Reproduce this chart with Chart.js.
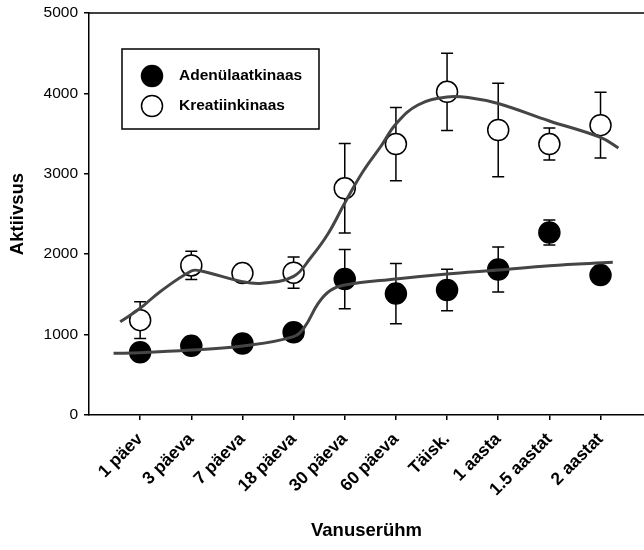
<!DOCTYPE html>
<html>
<head>
<meta charset="utf-8">
<script src="https://cdn.jsdelivr.net/npm/chart.js"></script>
<style>
  html, body { margin: 0; padding: 0; background: #fff; }
  #wrap { width: 644px; height: 550px; position: relative; }
</style>
</head>
<body>
<div id="wrap"><canvas id="chart"></canvas></div>
<script>
// categories (age groups)
const categories = ['1 päev', '3 päeva', '7 päeva', '18 päeva', '30 päeva', '60 päeva', 'Täisk.', '1 aasta', '1.5 aastat', '2 aastat'];

// Adenülaatkinaas (filled markers)
const adkValues = [780, 860, 890, 1030, 1690, 1510, 1555, 1810, 2270, 1740];
const adkErrors = [40, 40, 40, 40, 370, 375, 258, 280, 155, 40];

// Kreatiinkinaas (open markers)
const ckValues = [1180, 1860, 1765, 1770, 2820, 3370, 4020, 3545, 3370, 3605];
const ckErrors = [228, 176, 60, 195, 556, 456, 480, 581, 199, 410];

// fitted curves
const ckFitX = [-0.39, 0, 0.39, 1, 1.17, 2, 2.38, 3, 3.33, 3.67, 4, 4.35, 4.71, 5, 5.43, 6, 6.47, 7, 8, 9, 9.35];
const ckFitY = [1160, 1327, 1534, 1791, 1795, 1658, 1638, 1725, 1953, 2251, 2637, 3022, 3346, 3619, 3856, 3955, 3943, 3874, 3657, 3452, 3321];
const adkFitX = [-0.52, 0, 1, 2, 3, 3.22, 3.48, 3.71, 4, 5, 6, 7, 8, 9.24];
const adkFitY = [767, 775, 808, 858, 974, 1098, 1389, 1546, 1617, 1692, 1754, 1803, 1857, 1899];

// y axis ticks
const yTicks = [0, 1000, 2000, 3000, 4000, 5000];

const FONT = "'Liberation Sans', Arial, sans-serif";

const toPoints = (xs, ys) => xs.map((x, i) => ({ x: x, y: ys[i] }));

const errorBars = {
  id: 'errorBars',
  beforeDatasetsDraw(chart) {
    const { ctx, scales: { x, y } } = chart;
    ctx.save();
    ctx.strokeStyle = '#000';
    ctx.lineWidth = 1.5;
    chart.data.datasets.forEach(ds => {
      if (!ds.errors) return;
      ds.data.forEach((p, i) => {
        const e = ds.errors[i];
        const px = x.getPixelForValue(p.x);
        const top = y.getPixelForValue(p.y + e);
        const bot = y.getPixelForValue(p.y - e);
        ctx.beginPath();
        ctx.moveTo(px, top); ctx.lineTo(px, bot);
        ctx.moveTo(px - 6, top); ctx.lineTo(px + 6, top);
        ctx.moveTo(px - 6, bot); ctx.lineTo(px + 6, bot);
        ctx.stroke();
      });
    });
    ctx.restore();
  }
};

const frameAndLegend = {
  id: 'frameAndLegend',
  beforeDatasetsDraw(chart) {
    const { ctx, chartArea } = chart;
    ctx.save();
    ctx.strokeStyle = '#000';
    ctx.lineWidth = 1.5;
    ctx.beginPath();
    ctx.moveTo(chartArea.left, chartArea.top);
    ctx.lineTo(chartArea.right, chartArea.top);
    ctx.stroke();
    ctx.restore();
  },
  afterDraw(chart) {
    const { ctx, chartArea } = chart;
    const bx = chartArea.left + 33, by = chartArea.top + 36;
    ctx.save();
    ctx.strokeStyle = '#000';
    ctx.lineWidth = 1.5;
    ctx.strokeRect(bx, by, 197, 80);
    const items = chart.data.datasets.filter(d => d.errors);
    items.forEach((d, i) => {
      const cy = by + 27 + i * 30;
      ctx.beginPath();
      ctx.arc(bx + 30, cy, 10.5, 0, Math.PI * 2);
      ctx.fillStyle = d.pointBackgroundColor;
      ctx.fill();
      ctx.stroke();
      ctx.fillStyle = '#000';
      ctx.font = 'bold 15.5px ' + FONT;
      ctx.textBaseline = 'middle';
      ctx.fillText(d.label, bx + 57, cy);
    });
    ctx.restore();
  }
};

new Chart(document.getElementById('chart'), {
  type: 'line',
  data: {
    datasets: [
      {
        label: 'fit CK',
        data: toPoints(ckFitX, ckFitY),
        borderColor: '#454545',
        borderWidth: 3,
        pointRadius: 0,
        tension: 0.4,
        order: 0
      },
      {
        label: 'fit ADK',
        data: toPoints(adkFitX, adkFitY),
        borderColor: '#454545',
        borderWidth: 3,
        pointRadius: 0,
        tension: 0.4,
        order: 0
      },
      {
        label: 'Adenülaatkinaas',
        data: adkValues.map((v, i) => ({ x: i, y: v })),
        errors: adkErrors,
        showLine: false,
        pointRadius: 10.5,
        pointBackgroundColor: '#000',
        pointBorderColor: '#000',
        pointBorderWidth: 1.5,
        order: 1
      },
      {
        label: 'Kreatiinkinaas',
        data: ckValues.map((v, i) => ({ x: i, y: v })),
        errors: ckErrors,
        showLine: false,
        pointRadius: 10.5,
        pointBackgroundColor: '#fff',
        pointBorderColor: '#000',
        pointBorderWidth: 1.5,
        order: 1
      }
    ]
  },
  options: {
    responsive: true,
    maintainAspectRatio: false,
    animation: false,
    layout: { autoPadding: false, padding: { top: 13, right: 0, bottom: 0, left: 0 } },
    plugins: {
      legend: { display: false },
      tooltip: { enabled: false }
    },
    scales: {
      x: {
        type: 'linear',
        min: -1,
        max: 9.85,
        afterBuildTicks: s => { s.ticks = categories.map((c, i) => ({ value: i })); },
        afterFit: s => { s.height = 135; s.paddingLeft = 0; s.paddingRight = 0; },
        grid: { drawOnChartArea: false, drawTicks: true, tickLength: 5, color: '#000', lineWidth: 1.5 },
        border: { color: '#000', width: 1.5 },
        ticks: {
          autoSkip: false,
          minRotation: 45,
          maxRotation: 45,
          padding: 9,
          color: '#000',
          font: { family: FONT, size: 17.5, weight: 'bold' },
          callback: v => categories[v]
        },
        title: {
          display: true,
          text: 'Vanuserühm',
          color: '#000',
          font: { family: FONT, size: 18.5, weight: 'bold' },
          padding: 8
        }
      },
      y: {
        min: 0,
        max: 5000,
        afterBuildTicks: s => { s.ticks = yTicks.map(v => ({ value: v })); },
        afterFit: s => { s.width = 89; s.paddingTop = 0; s.paddingBottom = 0; },
        grid: { drawOnChartArea: false, drawTicks: true, tickLength: 5, color: '#000', lineWidth: 1.5 },
        border: { color: '#000', width: 1.5 },
        ticks: {
          padding: 6,
          color: '#000',
          font: { family: FONT, size: 15.5 },
          callback: v => String(v)
        },
        title: {
          display: true,
          text: 'Aktiivsus',
          color: '#000',
          font: { family: FONT, size: 18.5, weight: 'bold' },
          padding: 7
        }
      }
    }
  },
  plugins: [errorBars, frameAndLegend]
});
</script>
</body>
</html>
